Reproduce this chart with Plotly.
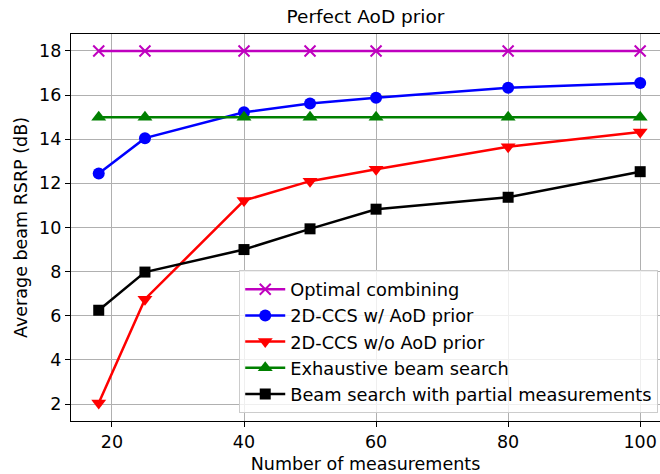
import plotly.graph_objects as go

measurements = [18, 25, 40, 50, 60, 80, 100]
optimal = [18, 18, 18, 18, 18, 18, 18]
ccs_with_prior = [12.45, 14.05, 15.22, 15.62, 15.88, 16.33, 16.55]
ccs_without_prior = [2.05, 6.75, 11.22, 12.1, 12.64, 13.66, 14.33]
exhaustive = [15, 15, 15, 15, 15, 15, 15]
partial = [6.25, 7.98, 9.0, 9.94, 10.83, 11.37, 12.53]

y_ticks = [2, 4, 6, 8, 10, 12, 14, 16, 18]
x_ticks = [20, 40, 60, 80, 100]

FONT = "DejaVu Sans"
FS = 17.5

fig = go.Figure()
fig.add_trace(go.Scatter(x=measurements, y=optimal, name="Optimal combining",
                         mode="lines+markers",
                         line=dict(color="#bf00bf", width=2.5),
                         marker=dict(symbol="x-thin", size=11, color="#bf00bf",
                                     line=dict(color="#bf00bf", width=2))))
fig.add_trace(go.Scatter(x=measurements, y=ccs_with_prior, name="2D-CCS w/ AoD prior",
                         mode="lines+markers",
                         line=dict(color="#0000ff", width=2.5),
                         marker=dict(symbol="circle", size=12, color="#0000ff")))
fig.add_trace(go.Scatter(x=measurements, y=ccs_without_prior, name="2D-CCS w/o AoD prior",
                         mode="lines+markers",
                         line=dict(color="#ff0000", width=2.5),
                         marker=dict(symbol="triangle-down", size=13, color="#ff0000")))
fig.add_trace(go.Scatter(x=measurements, y=exhaustive, name="Exhaustive beam search",
                         mode="lines+markers",
                         line=dict(color="#008000", width=2.5),
                         marker=dict(symbol="triangle-up", size=13, color="#008000")))
fig.add_trace(go.Scatter(x=measurements, y=partial, name="Beam search with partial measurements",
                         mode="lines+markers",
                         line=dict(color="#000000", width=2.5),
                         marker=dict(symbol="square", size=11, color="#000000")))

fig.update_layout(
    width=660, height=474,
    margin=dict(l=71, r=0, t=34, b=53, autoexpand=False),
    paper_bgcolor="white", plot_bgcolor="white",
    font=dict(family=FONT, size=FS, color="black"),
    title=dict(text="Perfect AoD prior", x=0.5, xref="paper", xanchor="center",
               y=1 - 17 / 474, yref="container", yanchor="middle", automargin=False,
               font=dict(size=18.5)),
    legend=dict(x=0.997, y=0.02, xanchor="right", yanchor="bottom",
                bgcolor="rgba(255,255,255,0.8)", bordercolor="#cccccc", borderwidth=1,
                font=dict(size=17.8), tracegroupgap=0, itemwidth=40),
    showlegend=True,
)
fig.update_xaxes(range=[13.8, 103.0], tickvals=x_ticks, showgrid=True, gridcolor="#b0b0b0",
                 gridwidth=1, showline=True, linecolor="black", linewidth=1.2, mirror=True,
                 ticks="outside", ticklen=5, tickcolor="black", zeroline=False, automargin=False,
                 title=dict(text="Number of measurements", standoff=6, font=dict(size=FS)))
fig.update_yaxes(range=[1.23, 18.77], tickvals=y_ticks, showgrid=True, gridcolor="#b0b0b0",
                 gridwidth=1, showline=True, linecolor="black", linewidth=1.2, mirror=True,
                 ticks="outside", ticklen=5, tickcolor="black", zeroline=False, automargin=False,
                 title=dict(text="Average beam RSRP (dB)", standoff=6, font=dict(size=FS)))

fig.write_html("out.html", config={"displayModeBar": False},
               post_script="document.body.style.margin='0px';")
